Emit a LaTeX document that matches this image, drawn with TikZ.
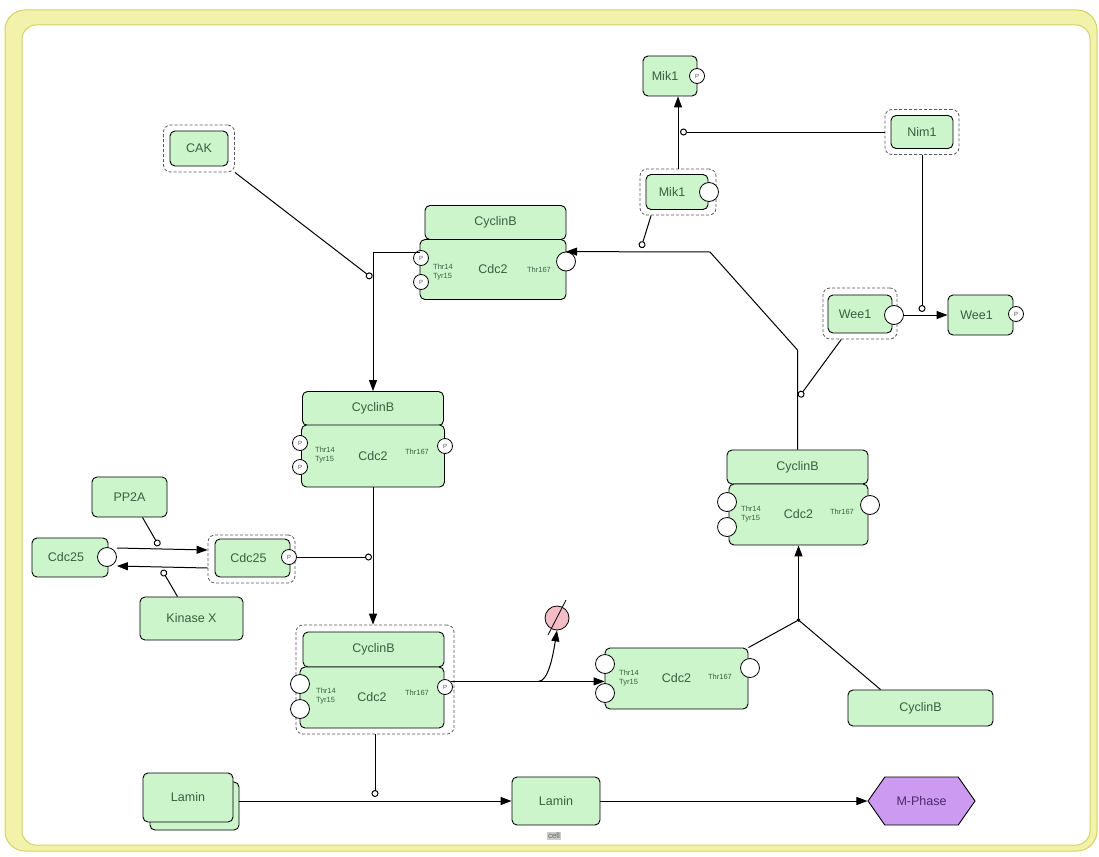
\documentclass[tikz,border=0pt]{standalone}
\usepackage{fontspec}
\setmainfont{Liberation Sans}
\usetikzlibrary{arrows.meta,shapes.geometric,shapes.symbols,calc}
\definecolor{ngreen}{HTML}{CCF5CC}
\definecolor{tgreen}{HTML}{3C5F3C}
\definecolor{frameY}{HTML}{F2F2AA}
\definecolor{frameD}{HTML}{D2D264}
\definecolor{mph}{HTML}{CC9AF0}
\definecolor{mtext}{HTML}{4A2A6A}
\definecolor{degr}{HTML}{F4BCC4}
\begin{document}
\begin{tikzpicture}[x=1pt,y=-1pt,
  ent/.style={draw=black, line width=0.9pt, fill=ngreen, rounded corners=5pt, text=tgreen, font=\fontsize{12.5}{14}\selectfont, inner sep=0pt},
  dashbox/.style={draw=black!65, dashed, dash pattern=on 3pt off 2pt, line width=0.8pt, rounded corners=7pt, inner sep=0pt},
  site/.style={circle, draw=black, fill=white, line width=0.8pt, minimum size=15pt, inner sep=0pt, font=\fontsize{6}{6}\selectfont, text=black!70},
  esite/.style={site, minimum size=19pt},
  lbl/.style={font=\fontsize{7.5}{8.5}\selectfont, text=tgreen, align=left, inner sep=0pt},
  cat/.style={-{Circle[open,length=7pt,width=7pt]}, line width=1pt},
  conv/.style={-{Triangle[length=11pt,width=8pt]}, line width=1pt},
  plain/.style={line width=1pt}]
\useasboundingbox (0,0) rectangle (1099,856);
% compartment frame
\fill[frameY, draw=frameD, line width=1pt, rounded corners=20pt] (5,10) rectangle (1097,851);
\fill[white, draw=frameD, line width=1pt, rounded corners=14pt] (22,25) rectangle (1090,845);

% CAK
\node[dashbox, minimum width=71, minimum height=47] (cakd) at (199,148.5) {};
\node[ent, minimum width=58, minimum height=35] (cak) at (199,148.5) {CAK};

% Mik1 top (phosphorylated)
\node[ent, minimum width=54, minimum height=40] (mikp) at (670,76) {Mik1\hspace*{10pt}};
\node[site] (mikpP) at (697,76) {P};

% Nim1
\node[dashbox, minimum width=74, minimum height=45] (nim1d) at (922,132) {};
\node[ent, minimum width=62, minimum height=33] (nim1) at (922,132) {Nim1};

% Mik1 middle
\node[dashbox, minimum width=76, minimum height=46] (mik1d) at (678,192) {};
\node[ent, minimum width=62, minimum height=35] (mik1) at (677,192) {Mik1\hspace*{10pt}};
\node[esite] (mik1s) at (709,192) {};

% Top complex
\node[ent, minimum width=141, minimum height=34] (cycA) at (495.5,222.5) {CyclinB};
\node[ent, minimum width=146, minimum height=60] (cdcA) at (493,269.5) {Cdc2};
\node[site] (cdcAp1) at (421,258) {P};
\node[site] (cdcAp2) at (421,282) {P};
\node[esite] (cdcAs) at (566,261.5) {};
\node[lbl] (cdcAl1) at (443,272) {Thr14\\Tyr15};
\node[lbl] (cdcAl2) at (539,270) {Thr167};

% Complex 2
\node[ent, minimum width=141, minimum height=34] (cycB) at (373,408.5) {CyclinB};
\node[ent, minimum width=143, minimum height=62] (cdcB) at (373,456) {Cdc2};
\node[site] (cdcBp1) at (300,443) {P};
\node[site] (cdcBp2) at (300,467) {P};
\node[site] (cdcBp3) at (445,446) {P};
\node[lbl] (cdcBl1) at (325,455) {Thr14\\Tyr15};
\node[lbl] (cdcBl2) at (417,452) {Thr167};

% Right complex
\node[ent, minimum width=141, minimum height=34] (cycC) at (797.5,467) {CyclinB};
\node[ent, minimum width=139, minimum height=61] (cdcC) at (798.5,514.5) {Cdc2};
\node[esite] (cdcCs1) at (727,502) {};
\node[esite] (cdcCs2) at (727,527) {};
\node[esite] (cdcCs3) at (870,505) {};
\node[lbl] (cdcCl1) at (751,514) {Thr14\\Tyr15};
\node[lbl] (cdcCl2) at (842,512) {Thr167};

% Bottom complex
\node[dashbox, minimum width=158, minimum height=109] (cpxDd) at (375,679.5) {};
\node[ent, minimum width=141, minimum height=35] (cycD) at (373.5,649.5) {CyclinB};
\node[ent, minimum width=144, minimum height=61] (cdcD) at (372,697.5) {Cdc2};
\node[esite] (cdcDs1) at (300,684) {};
\node[esite] (cdcDs2) at (300,709) {};
\node[site] (cdcDp) at (445,687) {P};
\node[lbl] (cdcDl1) at (326,696) {Thr14\\Tyr15};
\node[lbl] (cdcDl2) at (417,693) {Thr167};

% Cdc2 alone
\node[ent, minimum width=143, minimum height=61] (cdcE) at (676.5,678.5) {Cdc2};
\node[esite] (cdcEs1) at (605,664) {};
\node[esite] (cdcEs2) at (605,693) {};
\node[esite] (cdcEs3) at (750,668) {};
\node[lbl] (cdcEl1) at (629,678) {Thr14\\Tyr15};
\node[lbl] (cdcEl2) at (720,677) {Thr167};

% CyclinB alone
\node[ent, minimum width=145, minimum height=36] (cycE) at (920.5,708) {CyclinB};

% Wee1
\node[dashbox, minimum width=74, minimum height=51] (wee1d) at (860,313.5) {};
\node[ent, minimum width=64, minimum height=38] (wee1) at (860,314) {Wee1\hspace*{10pt}};
\node[esite] (wee1s) at (894,315) {};
\node[ent, minimum width=65, minimum height=40] (wee1r) at (980.5,315) {Wee1\hspace*{8pt}};
\node[site] (wee1rP) at (1016,314) {P};

% PP2A, Cdc25, Kinase X
\node[ent, minimum width=75, minimum height=40] (pp2a) at (129.5,497) {PP2A};
\node[ent, minimum width=76, minimum height=39] (cdc25l) at (70,557.5) {Cdc25\hspace*{8pt}};
\node[esite] (cdc25ls) at (107,557) {};
\node[dashbox, minimum width=87, minimum height=48] (cdc25md) at (251.5,559) {};
\node[ent, minimum width=75, minimum height=38] (cdc25m) at (252.5,558) {Cdc25\hspace*{8pt}};
\node[site] (cdc25mP) at (289,557) {P};
\node[ent, minimum width=103, minimum height=43] (kinx) at (191.5,618.5) {Kinase X};

% Lamin
\node[ent, minimum width=89, minimum height=48] (laminB) at (194.5,806) {};
\node[ent, minimum width=90, minimum height=49] (laminF) at (188,797.5) {Lamin};
\node[ent, minimum width=88, minimum height=48] (lamin) at (556,801) {Lamin};
\node[font=\fontsize{8}{8}\selectfont, fill=black!20, text=black!60, inner sep=1pt] (cell) at (554,836) {cell};

% M-Phase
\node[signal, signal to=west and east, signal pointer angle=110, draw=black, line width=0.9pt, fill=mph, text=mtext, minimum width=107, minimum height=48, inner sep=0pt, font=\fontsize{12.5}{14}\selectfont] (mph) at (921.5,801) {M-Phase};

% degradation
\node[circle, draw=black, line width=0.8pt, fill=degr, minimum size=24pt, inner sep=0pt] (deg) at (557,618) {};
\draw[line width=0.8pt] ($(deg.center)+(-9,17)$) -- ($(deg.center)+(9,-18)$);

% ---- connectors ----
\coordinate (jA) at (373,252);
\coordinate (cakOn) at (372,278);
\coordinate (r1) at (797.5,350);
\coordinate (r2) at (710,252);
\coordinate (mikOn) at (641,248);
\coordinate (weeOn) at (799,397);
\coordinate (nimOn) at (680,132);
\coordinate (nimOn2) at (922,312);
\coordinate (cdcOn) at (372,557);
\coordinate (ppOn) at (159,546);
\coordinate (kxOn) at (162,570);
\coordinate (asj) at (798.5,620);
\coordinate (lmOn) at (375,797);

\draw[conv] (cdcA.west |- jA) -- (jA) -- (jA |- cycB.north);
\draw[cat] (cakd.south east) -- (cakOn);
\draw[conv] (cycC.north) -- (r1) -- (r2) -- (cdcAs.north);
\draw[cat] ($(mik1d.south west)!0.15!(mik1d.south east)$) -- (mikOn);
\draw[cat] ($(wee1d.south west)!0.25!(wee1d.south east)$) -- (weeOn);
\draw[conv] (mik1d.north) -- (mik1d.north |- mikp.south);
\draw[cat] (nim1d.west) -- (nimOn);
\draw[cat] (nim1d.south) -- (nimOn2);
\draw[conv] (wee1s.east) -- (wee1r.west);
\draw[conv] (jA |- cdcB.south) -- (jA |- cpxDd.north);
\draw[cat] (cdc25mP.east) -- (cdcOn);
\draw[conv] ([yshift=9pt]cdc25ls.east) -- ([yshift=9pt]cdc25md.west);
\draw[conv] ([yshift=-9pt]cdc25md.west) -- ([yshift=-9pt]cdc25ls.east);
\draw[cat] ([xshift=13pt]pp2a.south) -- (ppOn);
\draw[cat] ([xshift=-14pt]kinx.north) -- (kxOn);
\draw[conv] (cdcDp.north east) -- coordinate[pos=0.57] (bj) (cdcDp.north east -| cdcE.west);
\draw[conv] (bj) .. controls ($(bj)+(10,0)$) and ($(deg.south)+(-4,25)$) .. (deg.south);
\draw[plain] (cdcE.north east) -- (asj);
\draw[plain] ([xshift=-40pt]cycE.north) -- (asj);
\fill (asj) circle (1.8pt);
\draw[conv] (asj) -- (asj |- cdcC.south);
\draw[conv] (laminB.east |- lamin.west) -- (lamin.west);
\draw[cat] (cpxDd.south) -- (lmOn);
\draw[conv] (lamin.east) -- (mph.west);
\end{tikzpicture}
\end{document}
